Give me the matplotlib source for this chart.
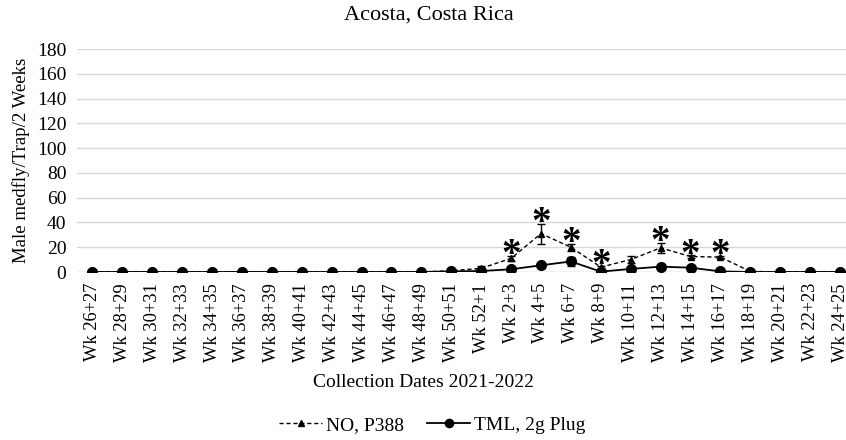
import matplotlib
matplotlib.use("Agg")
import matplotlib.pyplot as plt
from matplotlib.lines import Line2D
import numpy as np

plt.rcParams['font.family'] = ['Liberation Serif', 'DejaVu Serif']

categories = ["Wk 26+27", "Wk 28+29", "Wk 30+31", "Wk 32+33", "Wk 34+35", "Wk 36+37",
              "Wk 38+39", "Wk 40+41", "Wk 42+43", "Wk 44+45", "Wk 46+47", "Wk 48+49",
              "Wk 50+51", "Wk 52+1", "Wk 2+3", "Wk 4+5", "Wk 6+7", "Wk 8+9",
              "Wk 10+11", "Wk 12+13", "Wk 14+15", "Wk 16+17", "Wk 18+19", "Wk 20+21",
              "Wk 22+23", "Wk 24+25"]
no_p388 = [0, 0, 0, 0, 0, 0, 0, 0, 0, 0, 0, 0,
           1, 3, 11, 31, 20, 4, 10, 19.5, 12.5, 12, 0.5, 0, 0, 0]
no_p388_err = [0, 0, 0, 0, 0, 0, 0, 0, 0, 0, 0, 0,
               0.5, 2, 2, 8, 3, 1, 3, 4, 1, 1, 0, 0, 0, 0]
tml_plug = [0, 0, 0, 0, 0, 0, 0, 0, 0, 0, 0, 0,
            0.5, 0.8, 2.2, 5.4, 8.5, 0.3, 2.5, 4.3, 3.5, 0.5, 0, 0, 0, 0]
tml_plug_err = [0, 0, 0, 0, 0, 0, 0, 0, 0, 0, 0, 0,
                0, 0, 0, 0.8, 4, 0, 0.5, 0.5, 0.5, 0, 0, 0, 0, 0]
significant = ["Wk 2+3", "Wk 4+5", "Wk 6+7", "Wk 8+9", "Wk 12+13", "Wk 14+15", "Wk 16+17"]
y_ticks = [0, 20, 40, 60, 80, 100, 120, 140, 160, 180]

fig = plt.figure(figsize=(8.46, 4.40), dpi=100)
ax = fig.add_axes([0.0916, 0.3818, 0.919, 0.5068])

x = np.arange(len(categories))
no_style = dict(color='black', linestyle=(0, (3, 2)), linewidth=1, marker='^', markersize=5)
tml_style = dict(color='black', linestyle='-', linewidth=1.3, marker='o', markersize=7)
ax.errorbar(x, no_p388, yerr=no_p388_err, capsize=3, elinewidth=1, zorder=3, **no_style)
ax.errorbar(x, tml_plug, yerr=tml_plug_err, capsize=3, elinewidth=1, zorder=4, **tml_style)

for cat in significant:
    i = categories.index(cat)
    ax.annotate('*', xy=(i, no_p388[i] + no_p388_err[i]), xytext=(0, 0),
                textcoords='offset points', ha='center', va='center',
                fontsize=28, fontweight='bold', color='black', zorder=5)

ax.set_xlim(-0.5, len(categories) - 0.5)
ax.set_ylim(0, 180)
ax.set_yticks(y_ticks)
ax.set_xticks(x)
ax.set_xticklabels(categories, rotation=90, fontsize=13.3)
ax.tick_params(axis='y', labelsize=14, length=0, pad=8)
ax.tick_params(axis='x', length=0, pad=8)
ax.yaxis.grid(True, color='#d9d9d9', linewidth=1)
ax.set_axisbelow(True)
for s in ax.spines.values():
    s.set_visible(False)
ax.axhline(0, color='#d9d9d9', linewidth=1, zorder=1)

ax.set_ylabel('Male medfly/Trap/2 Weeks', fontsize=13.5, labelpad=5)
fig.text(0.5, 0.131, 'Collection Dates 2021-2022', ha='center', va='center', fontsize=14)
fig.text(0.507, 0.966, 'Acosta, Costa Rica', ha='center', va='center', fontsize=16)

handles = [Line2D([], [], **no_style), Line2D([], [], **tml_style)]
leg = fig.legend(handles, ['NO, P388', 'TML, 2g Plug'], loc='center',
                 bbox_to_anchor=(0.511, 0.034), ncol=2, frameon=False,
                 fontsize=14, handlelength=2.2, columnspacing=1.2, handletextpad=0.2,
                 markerscale=0.85)

fig.savefig('out.png', dpi=100)
